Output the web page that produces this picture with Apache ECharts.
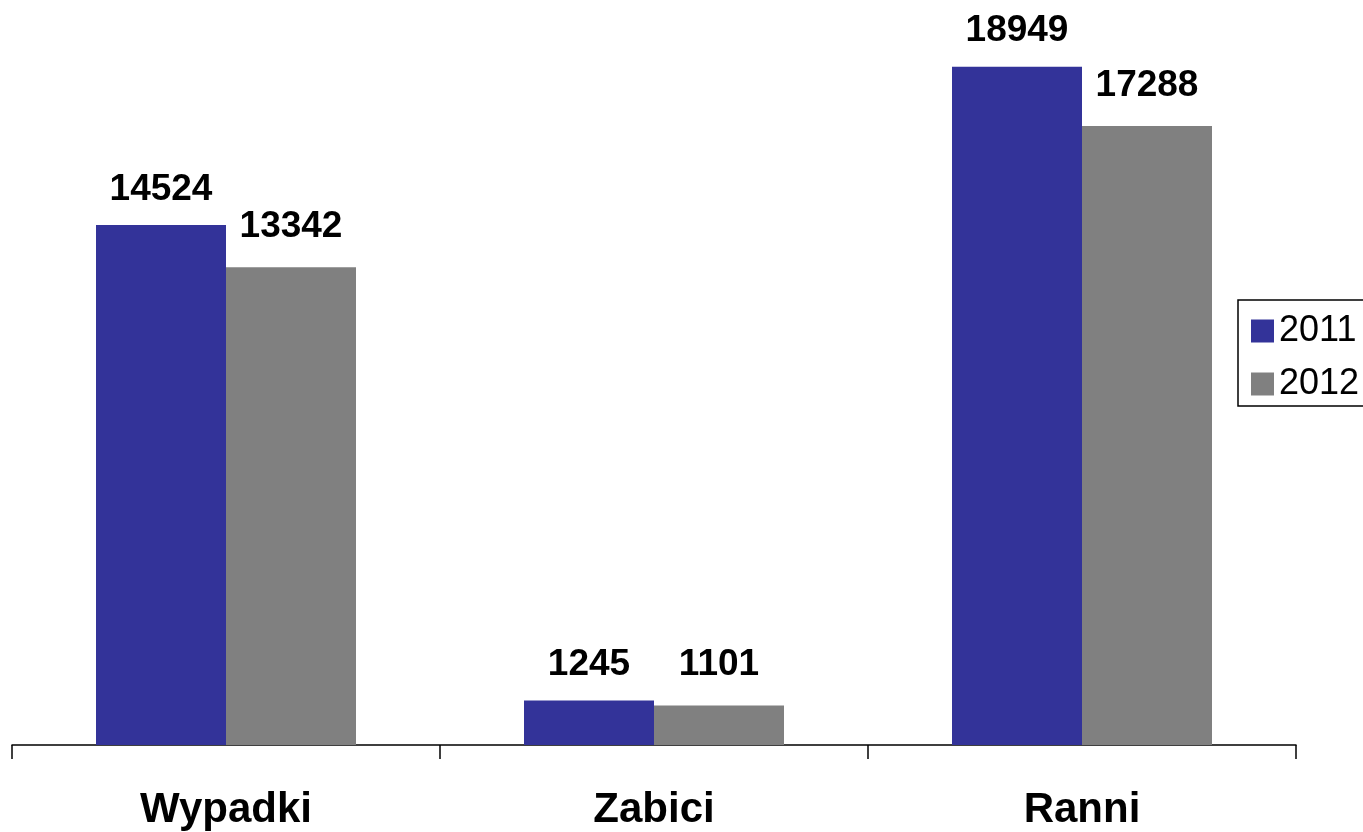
<!DOCTYPE html>
<html>
<head>
    <meta charset="utf-8">
    <title>Wypadki</title>
    <script src="https://cdn.jsdelivr.net/npm/echarts@6/dist/echarts.min.js"></script>
    <style>
        html, body { margin: 0; padding: 0; background: #fff; }
        #main { width: 1363px; height: 832px; }
    </style>
</head>
<body>
<div id="main"></div>
<script type="text/javascript">
    // dane
    var categories = ['Wypadki', 'Zabici', 'Ranni'];
    var years = ['2011', '2012'];
    var values2011 = [14524, 1245, 18949];
    var values2012 = [13342, 1101, 17288];

    var myChart = echarts.init(document.getElementById('main'));

    var labelFont = {
        show: true,
        position: 'top',
        color: '#000',
        fontFamily: 'Liberation Sans, Arial, sans-serif',
        fontWeight: 'bold',
        fontSize: 37
    };

    var option = {
        backgroundColor: '#fff',
        animation: false,
        grid: { left: 12, right: 67, top: 29, bottom: 87 },
        legend: {
            orient: 'vertical',
            left: 1238,
            top: 300,
            data: years,
            itemWidth: 23,
            itemHeight: 23,
            itemGap: 17,
            padding: [13, 20, 4, 13],
            borderColor: '#000',
            borderWidth: 1.5,
            icon: 'rect',
            textStyle: {
                color: '#000',
                fontFamily: 'Liberation Sans, Arial, sans-serif',
                fontSize: 36,
                padding: [0, 0, 0, 0]
            }
        },
        xAxis: {
            type: 'category',
            data: categories,
            axisLine: { lineStyle: { color: '#000', width: 1.5 } },
            axisTick: { show: true, length: 14, lineStyle: { color: '#000', width: 1.5 } },
            axisLabel: {
                color: '#000',
                fontFamily: 'Liberation Sans, Arial, sans-serif',
                fontWeight: 'bold',
                fontSize: 42,
                margin: 44
            }
        },
        yAxis: {
            type: 'value',
            min: 0,
            max: 20000,
            show: false,
            splitLine: { show: false }
        },
        series: [
            {
                name: years[0],
                type: 'bar',
                data: values2011,
                barWidth: 130,
                barGap: '0%',
                itemStyle: { color: '#333399' },
                label: Object.assign({}, labelFont, { distance: 17 })
            },
            {
                name: years[1],
                type: 'bar',
                data: values2012,
                barWidth: 130,
                barGap: '0%',
                itemStyle: { color: '#808080' },
                label: Object.assign({}, labelFont, { distance: 22 })
            }
        ]
    };

    myChart.setOption(option);
</script>
</body>
</html>
